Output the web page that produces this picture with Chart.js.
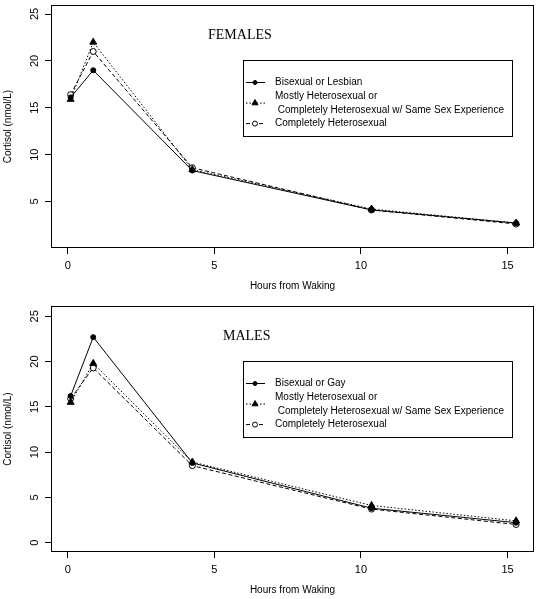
<!DOCTYPE html>
<html>
<head>
<meta charset="utf-8">
<script src="https://cdn.jsdelivr.net/npm/chart.js@4.4.1/dist/chart.umd.min.js"></script>
<style>
  html, body { margin: 0; padding: 0; background: #fff; }
  #wrap { position: relative; width: 539px; height: 599px; }
  canvas { position: absolute; left: 0; }
</style>
</head>
<body>
<div id="wrap">
  <canvas id="females" width="539" height="300" style="top:0"></canvas>
  <canvas id="males" width="539" height="299" style="top:300px"></canvas>
</div>
<script>
// hours after waking at which cortisol was sampled
const hours = [0.1, 0.87, 4.25, 10.36, 15.29];

const femaleBiLesbian = [16.1, 19.0, 8.3, 4.1, 2.7];
const femaleMostlyHetero = [15.9, 22.0, 8.4, 4.2, 2.7];
const femaleCompletelyHetero = [16.4, 21.0, 8.6, 4.1, 2.6];

const maleBiGay = [16.2, 22.7, 8.8, 3.8, 2.2];
const maleMostlyHetero = [15.5, 19.8, 8.9, 4.1, 2.4];
const maleCompletelyHetero = [15.9, 19.3, 8.5, 3.7, 2.0];

const xTicks = [0, 5, 10, 15];
const femaleYTicks = [5, 10, 15, 20, 25];
const maleYTicks = [0, 5, 10, 15, 20, 25];

const femaleLegend = ['Bisexual or Lesbian', ['Mostly Heterosexual or', ' Completely Heterosexual w/ Same Sex Experience'], 'Completely Heterosexual'];
const maleLegend = ['Bisexual or Gay', ['Mostly Heterosexual or', ' Completely Heterosexual w/ Same Sex Experience'], 'Completely Heterosexual'];

const SANS = '"Liberation Sans", Arial, Helvetica, sans-serif';
const SERIF = '"Liberation Serif", "Times New Roman", serif';

// series styles: solid/filled circle, dotted/filled triangle, dashed/open circle
const styles = [
  { borderDash: [], pointStyle: 'circle', pointRadius: 2.5, pointBackgroundColor: '#000' },
  { borderDash: [1.5, 2], pointStyle: 'triangle', pointRadius: 4, pointBackgroundColor: '#000' },
  { borderDash: [4, 2.5], pointStyle: 'circle', pointRadius: 3, pointBackgroundColor: '#fff' }
];

const panelDecor = {
  id: 'panelDecor',
  afterDraw(chart, args, opts) {
    const ctx = chart.ctx;
    const a = chart.chartArea;
    const yScale = chart.scales.y;
    ctx.save();
    ctx.strokeStyle = '#000';
    ctx.lineWidth = 1;
    ctx.strokeRect(Math.round(a.left) + 0.5, Math.round(a.top) + 0.5,
      Math.round(a.right - a.left) - 1, Math.round(a.bottom - a.top) - 1);

    // y tick labels, rotated like R's default
    ctx.fillStyle = '#000';
    ctx.font = '11px ' + SANS;
    ctx.textAlign = 'center';
    ctx.textBaseline = 'middle';
    opts.yTicks.forEach(v => {
      ctx.save();
      ctx.translate(opts.yLabelX, yScale.getPixelForValue(v));
      ctx.rotate(-Math.PI / 2);
      ctx.fillText(String(v), 0, 0);
      ctx.restore();
    });

    // panel label
    ctx.font = '14px ' + SERIF;
    ctx.textAlign = 'left';
    ctx.textBaseline = 'alphabetic';
    ctx.fillText(opts.title, a.left + opts.titleDx, a.top + opts.titleDy);

    // legend box
    const lx = Math.round(a.left + 192);
    const ly = Math.round(a.top + 55);
    ctx.strokeRect(lx + 0.5, ly + 0.5, 269, 76);
    ctx.font = '10px ' + SANS;
    ctx.textBaseline = 'middle';
    let row = 0;
    chart.data.datasets.forEach((ds, i) => {
      const lines = [].concat(opts.legend[i]);
      const ys = lines.map((_, k) => ly + 22.5 + (row + k) * 13.7);
      row += lines.length;
      ctx.fillStyle = '#000';
      lines.forEach((t, k) => ctx.fillText(t, lx + 32, ys[k]));
      const sy = (ys[0] + ys[ys.length - 1]) / 2;
      ctx.strokeStyle = '#000';
      ctx.lineWidth = 1;
      ctx.setLineDash(ds.borderDash);
      ctx.beginPath();
      ctx.moveTo(lx + 3, sy);
      ctx.lineTo(lx + 22, sy);
      ctx.stroke();
      ctx.setLineDash([]);
      ctx.fillStyle = ds.pointBackgroundColor;
      Chart.helpers.drawPoint(ctx, {
        pointStyle: ds.pointStyle,
        radius: ds.pointRadius - 0.5,
        borderWidth: 1,
        rotation: 0
      }, lx + 12, sy);
    });
    ctx.restore();
  }
};

function makePanel(canvasId, cfg) {
  const datasets = cfg.series.map((vals, i) => ({
    data: hours.map((h, j) => ({ x: h, y: vals[j] })),
    borderColor: '#000',
    borderWidth: 1,
    borderDash: styles[i].borderDash,
    pointStyle: styles[i].pointStyle,
    pointRadius: styles[i].pointRadius,
    pointBackgroundColor: styles[i].pointBackgroundColor,
    pointBorderColor: '#000',
    pointBorderWidth: 1,
    tension: 0,
    fill: false
  }));

  return new Chart(document.getElementById(canvasId), {
    type: 'line',
    data: { datasets },
    plugins: [panelDecor],
    options: {
      responsive: false,
      animation: false,
      events: [],
      layout: { padding: { top: cfg.padTop, right: 4, left: 0, bottom: 0 } },
      plugins: {
        legend: { display: false },
        tooltip: { enabled: false },
        panelDecor: {
          title: cfg.title,
          titleDx: cfg.titleDx,
          titleDy: 34,
          legend: cfg.legend,
          yTicks: cfg.yTicks,
          yLabelX: 35
        }
      },
      scales: {
        x: {
          type: 'linear',
          min: -0.57,
          max: 15.9,
          afterBuildTicks: s => { s.ticks = xTicks.map(v => ({ value: v })); },
          afterFit: s => { s.height = cfg.xHeight; },
          border: { display: false },
          grid: { drawOnChartArea: false, drawTicks: true, tickLength: 6, color: '#000' },
          ticks: { color: '#000', font: { family: SANS, size: 11 }, padding: 5, maxRotation: 0 },
          title: {
            display: true,
            text: 'Hours from Waking',
            color: '#000',
            font: { family: SANS, size: 10 },
            padding: { top: 0, bottom: cfg.xTitlePad }
          }
        },
        y: {
          type: 'linear',
          min: cfg.yMin,
          max: cfg.yMax,
          afterBuildTicks: s => { s.ticks = cfg.yTicks.map(v => ({ value: v })); },
          afterFit: s => { s.width = 51; },
          border: { display: false },
          grid: { drawOnChartArea: false, drawTicks: true, tickLength: 6, color: '#000' },
          ticks: { display: false },
          title: {
            display: true,
            text: 'Cortisol (nmol/L)',
            color: '#000',
            font: { family: SANS, size: 10 },
            padding: { top: 2, bottom: 0 }
          }
        }
      }
    }
  });
}

makePanel('females', {
  series: [femaleBiLesbian, femaleMostlyHetero, femaleCompletelyHetero],
  legend: femaleLegend,
  title: 'FEMALES',
  titleDx: 157,
  yTicks: femaleYTicks,
  yMin: 0.04,
  yMax: 25.96,
  padTop: 3,
  xHeight: 52,
  xTitlePad: 8
});

makePanel('males', {
  series: [maleBiGay, maleMostlyHetero, maleCompletelyHetero],
  legend: maleLegend,
  title: 'MALES',
  titleDx: 172,
  yTicks: maleYTicks,
  yMin: -1.04,
  yMax: 26.14,
  padTop: 6,
  xHeight: 47,
  xTitlePad: 3
});
</script>
</body>
</html>
